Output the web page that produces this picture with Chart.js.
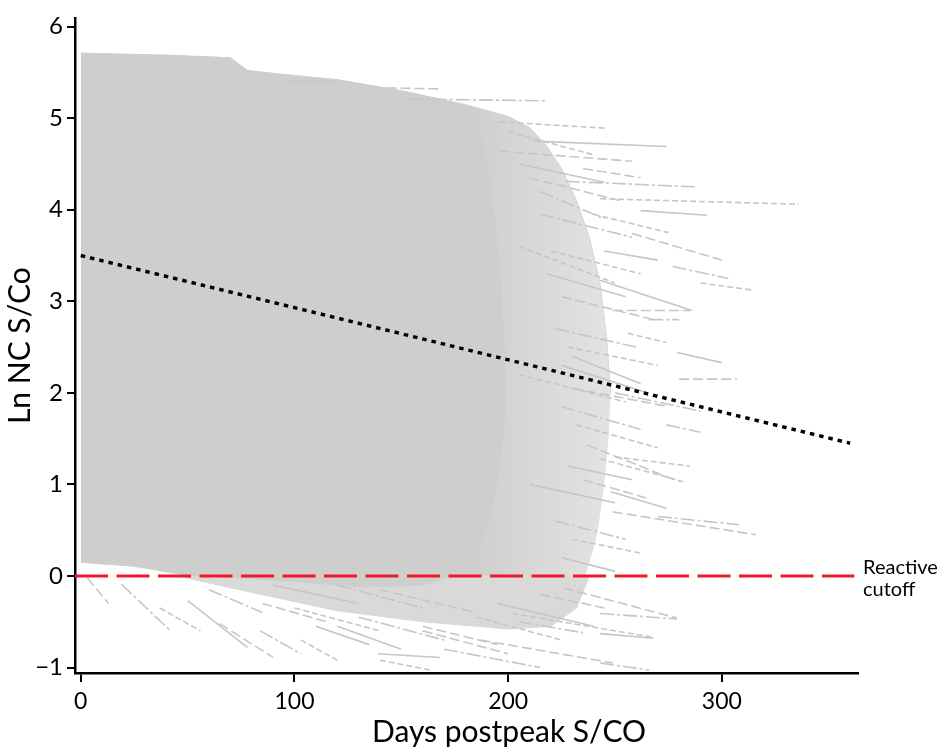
<!DOCTYPE html>
<html>
<head>
<meta charset="utf-8">
<script src="https://cdn.jsdelivr.net/npm/chart.js@4/dist/chart.umd.min.js"></script>
<style>
  html, body { margin: 0; padding: 0; background: #fff; }
  #wrap { width: 941px; height: 748px; }
</style>
</head>
<body>
<div id="wrap"><canvas id="myChart" width="941" height="748"></canvas></div>
<script>
// Axis ticks
const xTicks = [0, 100, 200, 300];
const yTicks = [-1, 0, 1, 2, 3, 4, 5, 6];

// Solid core of the overlapping trajectories (upper and lower edge)
const coreTopX = [0, 40, 70, 78, 100, 120, 150, 175, 185, 190, 194, 197, 199];
const coreTopY = [5.71, 5.69, 5.66, 5.52, 5.46, 5.42, 5.3, 5.17, 5.0, 4.5, 3.8, 3.0, 2.0];
const coreBotX = [0, 10, 30, 50, 60, 100, 130, 160, 180, 188, 194, 197, 199];
const coreBotY = [0.15, 0.13, 0.1, 0.03, 0.0, -0.06, -0.12, -0.1, 0.05, 0.4, 0.9, 1.4, 2.0];

// Streaky outer band of trajectories
const haloTopX = [0, 70, 78, 120, 150, 180, 200, 210, 218, 225, 232, 238, 243, 246, 248];
const haloTopY = [5.71, 5.66, 5.52, 5.42, 5.3, 5.15, 5.02, 4.9, 4.7, 4.45, 4.1, 3.7, 3.2, 2.6, 2.0];
const haloBotX = [0, 20, 50, 236, 240, 242, 245, 247, 248];
const haloBotY = [0.15, 0.12, 0.0, 0.0, 0.3, 0.5, 1.0, 1.5, 2.0];

// Thinner band of trajectories below the cutoff
const underTopX = [45, 238];
const underTopY = [0, 0];
const underBotX = [45, 80, 120, 160, 200, 220, 232, 238];
const underBotY = [0, -0.18, -0.38, -0.5, -0.58, -0.55, -0.35, 0];

// Single trajectories sticking out of the band: [x0, y0, x1, y1]
const upperLines = [
  [97, 5.40, 120, 5.40], [143, 5.33, 168, 5.32], [154, 5.21, 218, 5.19],
  [196, 4.96, 246, 4.89], [212, 4.75, 274, 4.69], [196, 4.64, 258, 4.53],
  [227, 4.31, 288, 4.25], [243, 4.12, 336, 4.06], [262, 3.99, 293, 3.94],
  [258, 3.74, 300, 3.45], [277, 3.38, 303, 3.25], [290, 3.20, 315, 3.12],
  [243, 3.23, 286, 2.90], [249, 2.90, 285, 2.90], [266, 2.80, 280, 2.80],
  [256, 2.65, 274, 2.55], [279, 2.44, 300, 2.33], [280, 2.15, 307, 2.15],
  [215, 4.20, 245, 3.90], [205, 3.60, 250, 3.20], [230, 2.40, 262, 2.10]
];
const middleLines = [
  [237, 1.43, 280, 1.03], [274, 1.65, 290, 1.57], [243, 1.28, 282, 1.03],
  [248, 0.92, 274, 0.74], [249, 0.70, 316, 0.45], [270, 0.65, 308, 0.56],
  [205, 2.20, 255, 1.90], [210, 1.00, 250, 0.80]
];
const lowerLines = [
  [226, -0.13, 279, -0.46], [243, -0.41, 279, -0.47], [202, -0.41, 268, -0.67],
  [243, -0.63, 268, -0.68], [187, -0.70, 249, -0.95], [243, -0.95, 266, -1.03],
  [140, -0.92, 164, -1.03], [139, -0.85, 168, -0.89], [3, -0.02, 13, -0.30],
  [19, -0.09, 42, -0.60], [37, -0.35, 56, -0.60], [50, -0.27, 78, -0.78],
  [65, -0.52, 90, -0.89], [84, -0.60, 103, -0.85], [103, -0.70, 120, -0.92],
  [120, -0.55, 150, -0.80], [160, -0.60, 200, -0.85], [170, -0.80, 215, -1.00]
];
// Streaks inside the ragged edge of the band
const edgeLines = [
  [200, 4.85, 240, 4.60], [205, 4.50, 245, 4.30], [210, 4.35, 252, 4.10],
  [215, 3.95, 258, 3.70], [220, 3.55, 262, 3.30], [218, 3.30, 255, 3.05],
  [225, 3.05, 268, 2.80], [222, 2.70, 260, 2.50], [228, 2.50, 270, 2.30],
  [225, 2.30, 265, 2.00], [230, 2.05, 275, 1.85], [225, 1.85, 262, 1.60],
  [232, 1.65, 270, 1.40], [228, 1.20, 258, 1.05], [235, 1.05, 265, 0.85],
  [222, 0.60, 255, 0.40], [230, 0.40, 262, 0.25], [225, 0.20, 250, 0.05],
  [215, -0.20, 245, -0.35], [205, -0.50, 235, -0.62], [185, -0.45, 225, -0.70],
  [195, -0.30, 240, -0.55], [160, -0.55, 195, -0.75], [130, -0.45, 170, -0.70],
  [100, -0.35, 140, -0.60], [110, -0.55, 135, -0.75], [85, -0.30, 115, -0.50],
  [60, -0.15, 85, -0.40], [240, 3.95, 275, 3.75], [245, 3.55, 270, 3.45],
  [235, 4.45, 262, 4.35], [250, 2.00, 290, 1.80], [250, 1.30, 285, 1.20],
  [90, -0.10, 130, -0.30], [140, -0.15, 185, -0.40], [120, -0.10, 160, -0.35]
];

// Mean decline and reactive cutoff
const trendX = [0, 360];
const trendY = [3.5, 1.45];
const cutoffX = [-2.7, 362];
const cutoffY = [0, 0];

const fontFamily = "Lato, 'Open Sans', sans-serif";
const coreGrey = "rgb(206, 206, 206)";
const haloGrey = "rgb(214, 214, 214)";
const underGrey = "rgb(217, 217, 217)";
const lineGrey = "rgb(198, 198, 198)";

function toPoints(xs, ys) {
  return xs.map((x, i) => ({ x: x, y: ys[i] }));
}

// Band fill fades out towards its ragged right edge
function haloFill(context) {
  const chart = context.chart;
  if (!chart.chartArea) return haloGrey;
  const xs = chart.scales.x;
  const g = chart.ctx.createLinearGradient(xs.getPixelForValue(185), 0, xs.getPixelForValue(250), 0);
  g.addColorStop(0, "rgb(207, 207, 207)");
  g.addColorStop(1, "rgb(228, 228, 228)");
  return g;
}

let datasets = [];

// Filled bands (top edge fills down to the next dataset)
datasets.push({ data: toPoints(haloTopX, haloTopY), fill: "+1", backgroundColor: haloFill,
  borderColor: haloGrey, borderWidth: 1, order: 5 });
datasets.push({ data: toPoints(haloBotX, haloBotY), fill: false, borderColor: haloGrey, borderWidth: 0, order: 5 });
datasets.push({ data: toPoints(underTopX, underTopY), fill: "+1", backgroundColor: underGrey,
  borderColor: underGrey, borderWidth: 0, order: 5 });
datasets.push({ data: toPoints(underBotX, underBotY), fill: false, borderColor: underGrey, borderWidth: 1, order: 5 });
datasets.push({ data: toPoints(coreTopX, coreTopY), fill: "+1", backgroundColor: coreGrey,
  borderColor: coreGrey, borderWidth: 1, order: 4 });
datasets.push({ data: toPoints(coreBotX, coreBotY), fill: false, borderColor: coreGrey, borderWidth: 1, order: 4 });

// Individual trajectories, with a few dash styles
const dashStyles = [[], [10, 4], [14, 3, 3, 3], [6, 3]];
upperLines.concat(middleLines, lowerLines, edgeLines).forEach(function (seg, i) {
  datasets.push({
    data: [{ x: seg[0], y: seg[1] }, { x: seg[2], y: seg[3] }],
    fill: false, borderColor: lineGrey, borderWidth: 1.6,
    borderDash: dashStyles[i % dashStyles.length], order: 3
  });
});

datasets.push({ data: toPoints(cutoffX, cutoffY), fill: false, borderColor: "rgb(237, 28, 36)",
  borderWidth: 3, borderDash: [33, 8.5], order: 1 });
datasets.push({ data: toPoints(trendX, trendY), fill: false, borderColor: "#000",
  borderWidth: 3.5, borderDash: [4.5, 5], order: 0 });

// Cutoff label and x-axis title
const extraText = {
  id: "extraText",
  afterDraw(chart) {
    const ctx = chart.ctx;
    const area = chart.chartArea;
    const y0 = chart.scales.y.getPixelForValue(0);
    ctx.save();
    ctx.fillStyle = "#000";
    ctx.textBaseline = "alphabetic";
    ctx.font = "20px " + fontFamily;
    ctx.textAlign = "left";
    ctx.fillText("Reactive", area.right + 5, y0 - 2);
    ctx.fillText("cutoff", area.right + 5, y0 + 20);
    ctx.font = "30px " + fontFamily;
    ctx.textAlign = "center";
    ctx.fillText("Days postpeak S/CO", area.left + 434, area.bottom + 69);
    ctx.restore();
  }
};

const chart = new Chart(document.getElementById("myChart"), {
  type: "line",
  data: { datasets: datasets },
  options: {
    responsive: false,
    animation: false,
    layout: { padding: { top: 13, right: 83, left: 0, bottom: 0 } },
    elements: { point: { radius: 0 }, line: { tension: 0 } },
    plugins: { legend: { display: false }, tooltip: { enabled: false } },
    scales: {
      x: {
        type: "linear", min: -2.7, max: 363.7,
        afterFit: (s) => { s.height = 75; },
        afterBuildTicks: (s) => { s.ticks = xTicks.map((v) => ({ value: v })); },
        grid: { drawOnChartArea: false, color: "#000", tickLength: 9, lineWidth: 2 },
        border: { color: "#000", width: 2.5 },
        ticks: { color: "#000", font: { family: fontFamily, size: 23 }, padding: 6, maxRotation: 0 }
      },
      y: {
        type: "linear", min: -1.06, max: 6.09,
        afterFit: (s) => { s.width = 75; },
        afterBuildTicks: (s) => { s.ticks = yTicks.map((v) => ({ value: v })); },
        grid: { drawOnChartArea: false, color: "#000", tickLength: 8, lineWidth: 2 },
        border: { color: "#000", width: 2.5 },
        ticks: { color: "#000", font: { family: fontFamily, size: 24 }, padding: 4,
          callback: (v) => String(v).replace("-", "\u2212") },
        title: { display: true, text: "Ln NC S/Co", color: "#000",
          font: { family: fontFamily, size: 30, lineHeight: 1.1 }, padding: { top: 4, bottom: 0 } }
      }
    }
  },
  plugins: [extraText]
});
</script>
</body>
</html>
